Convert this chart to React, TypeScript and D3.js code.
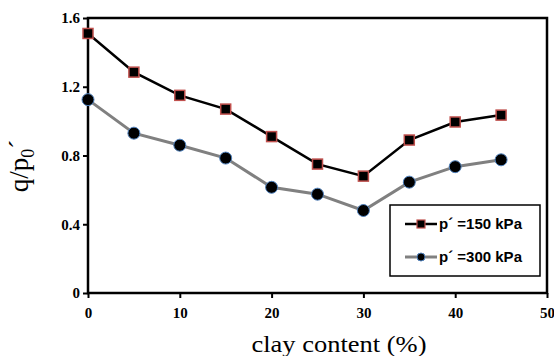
import { useEffect, useRef } from 'react';
import * as d3 from 'd3';

// clay content (%)
const clay = [0, 5, 10, 15, 20, 25, 30, 35, 40, 45];
// q/p0' for p' = 150 kPa
const q150 = [1.51, 1.285, 1.15, 1.07, 0.91, 0.75, 0.68, 0.89, 0.995, 1.035];
// q/p0' for p' = 300 kPa
const q300 = [1.125, 0.93, 0.86, 0.785, 0.615, 0.575, 0.48, 0.645, 0.735, 0.775];

const xTicks = [0, 10, 20, 30, 40, 50];
const yTicks = [0, 0.4, 0.8, 1.2, 1.6];

const W = 554;
const H = 356;
const M = { left: 88, right: 7, top: 18, bottom: 63 };

export default function App() {
  const svgRef = useRef<SVGSVGElement>(null);

  useEffect(() => {
    if (!svgRef.current) return;
    const svg = d3.select(svgRef.current);
    svg.selectAll('*').remove();

    const x = d3.scaleLinear().domain([0, 50]).range([M.left, W - M.right]);
    const y = d3.scaleLinear().domain([0, 1.6]).range([H - M.bottom, M.top]);

    const serif = '"Liberation Serif", "Times New Roman", serif';
    const sans = '"Liberation Sans", Arial, sans-serif';

    // frame
    svg.append('rect')
      .attr('x', x(0)).attr('y', y(1.6))
      .attr('width', x(50) - x(0)).attr('height', y(0) - y(1.6))
      .attr('fill', 'none').attr('stroke', '#000').attr('stroke-width', 2.5);

    // x axis
    const xAxis = svg.append('g')
      .attr('transform', `translate(0,${y(0)})`)
      .call(d3.axisBottom(x).tickValues(xTicks).tickSize(5).tickPadding(9).tickFormat(d3.format('d')));
    xAxis.select('.domain').remove();
    xAxis.selectAll('line').attr('stroke', '#000').attr('stroke-width', 2);
    xAxis.selectAll('text')
      .attr('font-family', serif).attr('font-size', 15).attr('font-weight', 'bold').attr('fill', '#000');

    // y axis
    const yAxis = svg.append('g')
      .attr('transform', `translate(${x(0)},0)`)
      .call(d3.axisLeft(y).tickValues(yTicks).tickSize(5).tickPadding(3)
        .tickFormat((d) => (d === 0 ? '0' : d3.format('.1f')(d as number))));
    yAxis.select('.domain').remove();
    yAxis.selectAll('line').attr('stroke', '#000').attr('stroke-width', 2);
    yAxis.selectAll('text')
      .attr('font-family', serif).attr('font-size', 15).attr('font-weight', 'bold').attr('fill', '#000');

    const line = d3.line<number>().x((_, i) => x(clay[i])).y((d) => y(d));

    // p' = 300 kPa series (grey line, circles)
    svg.append('path').datum(q300)
      .attr('d', line).attr('fill', 'none').attr('stroke', '#808080').attr('stroke-width', 3);
    svg.append('g').selectAll('circle').data(q300).join('circle')
      .attr('cx', (_, i) => x(clay[i])).attr('cy', (d) => y(d)).attr('r', 6)
      .attr('fill', '#000').attr('stroke', '#4f81bd').attr('stroke-width', 1);

    // p' = 150 kPa series (black line, squares)
    svg.append('path').datum(q150)
      .attr('d', line).attr('fill', 'none').attr('stroke', '#000').attr('stroke-width', 2.5);
    svg.append('g').selectAll('rect').data(q150).join('rect')
      .attr('x', (_, i) => x(clay[i]) - 5).attr('y', (d) => y(d) - 5)
      .attr('width', 10).attr('height', 10)
      .attr('fill', '#000').attr('stroke', '#c0504d').attr('stroke-width', 1.5);

    // legend
    const lg = svg.append('g').attr('transform', 'translate(390,205)');
    lg.append('rect').attr('width', 150).attr('height', 71)
      .attr('fill', '#fff').attr('stroke', '#000').attr('stroke-width', 1.5);
    const items = [
      { label: "p\u00b4 =150 kPa", color: '#000', shape: 'square', cy: 19 },
      { label: "p\u00b4 =300 kPa", color: '#808080', shape: 'circle', cy: 52 },
    ];
    items.forEach((it) => {
      lg.append('line').attr('x1', 15).attr('x2', 47).attr('y1', it.cy).attr('y2', it.cy)
        .attr('stroke', it.color).attr('stroke-width', it.shape === 'circle' ? 3 : 2.5);
      if (it.shape === 'square') {
        lg.append('rect').attr('x', 27).attr('y', it.cy - 4).attr('width', 8).attr('height', 8)
          .attr('fill', '#000').attr('stroke', '#c0504d').attr('stroke-width', 1.2);
      } else {
        lg.append('circle').attr('cx', 31).attr('cy', it.cy).attr('r', 4)
          .attr('fill', '#000').attr('stroke', '#4f81bd').attr('stroke-width', 1);
      }
      lg.append('text').attr('x', 49).attr('y', it.cy + 5)
        .attr('font-family', sans).attr('font-size', 15).attr('font-weight', 'bold').attr('fill', '#000')
        .text(it.label);
    });

    // x title
    svg.append('text')
      .attr('x', 339).attr('y', 352)
      .attr('text-anchor', 'middle')
      .attr('font-family', serif).attr('font-size', 23).attr('fill', '#000')
      .attr('textLength', 175).attr('lengthAdjust', 'spacingAndGlyphs')
      .text('clay content (%)');

    // y title
    const yt = svg.append('text')
      .attr('transform', 'translate(28,166) rotate(-90)')
      .attr('text-anchor', 'middle')
      .attr('font-family', serif).attr('font-size', 27).attr('fill', '#000');
    yt.append('tspan').text('q/p');
    yt.append('tspan').attr('font-size', 18).attr('dy', 6).text('0');
    yt.append('tspan').attr('dy', -6).text('\u00b4');
  }, []);

  return (
    <div style={{ position: 'absolute', left: 0, top: 0 }}>
      <svg ref={svgRef} width={W} height={H} style={{ display: 'block', background: '#fff' }} />
    </div>
  );
}
